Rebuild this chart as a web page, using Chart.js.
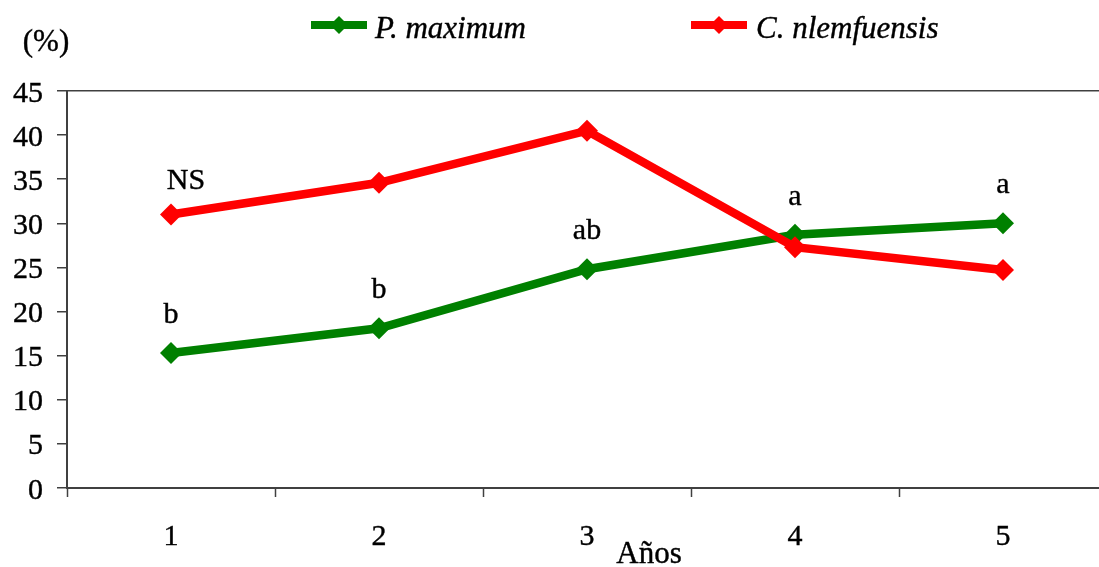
<!DOCTYPE html>
<html>
<head>
<meta charset="utf-8">
<script src="https://cdn.jsdelivr.net/npm/chart.js@4.4.1/dist/chart.umd.min.js"></script>
<style>
  html, body { margin: 0; padding: 0; background: #fff; overflow: hidden; }
  #wrap { width: 1099px; height: 567px; overflow: hidden; }
  canvas { display: block; }
</style>
</head>
<body>
<div id="wrap"><canvas id="chart" width="1120" height="567" style="width:1120px;height:567px"></canvas></div>
<script>
// Años de evaluación
const years = ['1', '2', '3', '4', '5'];

// Porcentaje por especie
const pMaximum = [15.3, 18.1, 24.8, 28.7, 30.0];
const cNlemfuensis = [31.0, 34.6, 40.5, 27.3, 24.7];

// Letras de significancia (sobre P. maximum) y la de C. nlemfuensis
const pMaximumLetters = ['b', 'b', 'ab', 'a', 'a'];
const cNlemfuensisLetter = 'NS';

const seriesNames = ['P. maximum', 'C. nlemfuensis'];
const seriesColors = ['#008000', '#ff0000'];
const yTickValues = [0, 5, 10, 15, 20, 25, 30, 35, 40, 45];
const yUnitLabel = '(%)';
const xTitle = 'Años';

const SERIF = '"Liberation Serif", "Times New Roman", serif';
const AXIS_COLOR = '#404040';

function text(ctx, str, x, y, font, align) {
  ctx.save();
  ctx.font = font;
  ctx.fillStyle = '#000';
  ctx.strokeStyle = '#000';
  ctx.lineWidth = 0.4;
  ctx.textAlign = align;
  ctx.textBaseline = 'alphabetic';
  ctx.fillText(str, x, y);
  ctx.strokeText(str, x, y);
  ctx.restore();
}

function diamond(ctx, x, y, r, color) {
  ctx.save();
  ctx.fillStyle = color;
  ctx.beginPath();
  ctx.moveTo(x, y - r);
  ctx.lineTo(x + r, y);
  ctx.lineTo(x, y + r);
  ctx.lineTo(x - r, y);
  ctx.closePath();
  ctx.fill();
  ctx.restore();
}

const textLayer = {
  id: 'textLayer',
  afterDraw(chart) {
    const ctx = chart.ctx;
    const xs = chart.scales.x;
    const ys = chart.scales.y;

    // y tick labels
    yTickValues.forEach(v => {
      text(ctx, String(v), 43, ys.getPixelForValue(v) + 10.5, '30px ' + SERIF, 'right');
    });

    // x tick labels
    years.forEach((lab, i) => {
      text(ctx, lab, xs.getPixelForValue(i), 545, '30px ' + SERIF, 'center');
    });

    // axis titles
    text(ctx, xTitle, 649, 563, '31px ' + SERIF, 'center');
    text(ctx, yUnitLabel, 46, 51, '31px ' + SERIF, 'center');

    // significance letters above P. maximum points
    pMaximumLetters.forEach((lab, i) => {
      text(ctx, lab, xs.getPixelForValue(i), ys.getPixelForValue(pMaximum[i]) - 30,
        '30px ' + SERIF, 'center');
    });
    text(ctx, cNlemfuensisLetter, xs.getPixelForValue(0) + 15,
      ys.getPixelForValue(cNlemfuensis[0]) - 26, '30px ' + SERIF, 'center');

    // legend
    const legendItems = [
      { x0: 311, x1: 367, tx: 375 },
      { x0: 691, x1: 747, tx: 756 }
    ];
    legendItems.forEach((it, i) => {
      ctx.save();
      ctx.strokeStyle = seriesColors[i];
      ctx.lineWidth = 8;
      ctx.beginPath();
      ctx.moveTo(it.x0, 25);
      ctx.lineTo(it.x1, 25);
      ctx.stroke();
      ctx.restore();
      diamond(ctx, (it.x0 + it.x1) / 2, 25, 9, seriesColors[i]);
      text(ctx, seriesNames[i], it.tx, 38, 'italic 31px ' + SERIF, 'left');
    });
  }
};

new Chart(document.getElementById('chart'), {
  type: 'line',
  data: {
    labels: years,
    datasets: [
      {
        label: seriesNames[0],
        data: pMaximum,
        borderColor: seriesColors[0],
        backgroundColor: seriesColors[0],
        borderWidth: 8.5,
        pointStyle: 'rectRot',
        pointRadius: 11,
        pointBorderWidth: 0,
        pointBackgroundColor: seriesColors[0],
        tension: 0,
        order: 2
      },
      {
        label: seriesNames[1],
        data: cNlemfuensis,
        borderColor: seriesColors[1],
        backgroundColor: seriesColors[1],
        borderWidth: 8.5,
        pointStyle: 'rectRot',
        pointRadius: 11,
        pointBorderWidth: 0,
        pointBackgroundColor: seriesColors[1],
        tension: 0,
        order: 1
      }
    ]
  },
  options: {
    responsive: false,
    animation: false,
    events: [],
    layout: { padding: { left: 0, top: 91, right: 13, bottom: 0 } },
    plugins: {
      legend: { display: false },
      tooltip: { enabled: false },
      title: { display: false }
    },
    scales: {
      x: {
        type: 'category',
        offset: true,
        grid: {
          offset: true,
          drawOnChartArea: false,
          drawTicks: true,
          tickLength: 9,
          tickColor: AXIS_COLOR,
          tickWidth: 1.5
        },
        border: { display: true, color: AXIS_COLOR, width: 2 },
        ticks: { display: false },
        afterFit(scale) { scale.height = 79; }
      },
      y: {
        min: 0,
        max: 45,
        ticks: { display: false, stepSize: 5 },
        grid: {
          drawOnChartArea: true,
          drawTicks: true,
          tickLength: 10,
          color: ctx => (ctx.tick && ctx.tick.value === 45) ? AXIS_COLOR : 'rgba(0,0,0,0)',
          lineWidth: 1.5,
          tickColor: AXIS_COLOR,
          tickWidth: 1.5
        },
        border: { display: true, color: AXIS_COLOR, width: 2 },
        afterFit(scale) { scale.width = 67; }
      }
    }
  },
  plugins: [textLayer]
});
</script>
</body>
</html>
